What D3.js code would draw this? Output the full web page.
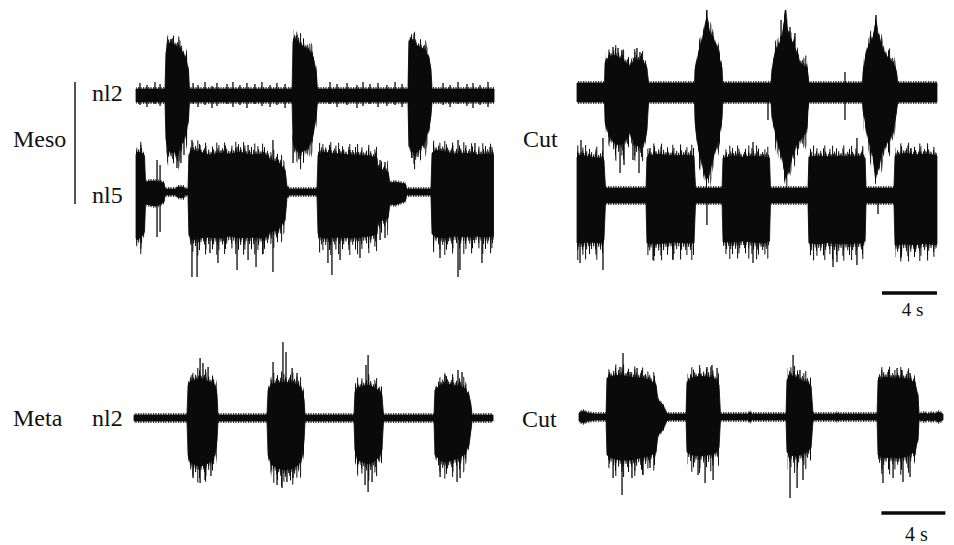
<!DOCTYPE html>
<html>
<head>
<meta charset="utf-8">
<script src="https://cdn.jsdelivr.net/npm/d3@7"></script>
<style>
  body { margin: 0; background: #fff; }
  svg { display: block; }
</style>
</head>
<body>
<svg id="chart" width="954" height="545"></svg>
<script>
// Extracellular nerve recordings. Each envelope row: [time s, upper amplitude, lower amplitude];
// each spike row: [time s, amplitude from, amplitude to]. Amplitudes in arbitrary units.

// ---- Mesothoracic ganglion, intact: nerve nl2 ----
const mesoNl2Env = [
  [0,6,-7],[2.11,6,-7],
  [2.18,42,-44],[2.33,50,-54],[2.55,53,-58],[2.76,51,-56],[2.98,48,-61],[3.2,47,-53],[3.42,42,-46],[3.64,36,-38],[3.82,24,-24],[3.89,6,-7],
  [11.35,6,-7],
  [11.42,54,-46],[11.64,56,-54],[11.85,52,-58],[12.15,49,-56],[12.44,46,-54],[12.73,42,-46],[12.95,34,-34],[13.13,19,-18],[13.2,6,-7],
  [19.78,6,-7],
  [19.85,54,-51],[20.07,56,-56],[20.36,50,-58],[20.65,48,-54],[20.95,46,-48],[21.24,39,-36],[21.45,26,-21],[21.53,6,-7],
  [26.04,6,-7]
];
const mesoNl2Spikes = [
  [2.55,56,30],[2.98,-40,-73],[3.27,-40,-68],[3.49,-40,-60],
  [11.42,-40,-68],[11.71,40,60],[11.93,-40,-64],
  [20.0,40,58],[20.07,-40,-63],[20.51,-40,-62],
  [0.29,12,-10],[0.80,10,-12],[1.38,13,-9],[1.75,11,-11],[4.15,12,-9],[4.51,10,-12],[5.02,13,-10],
  [5.53,9,-13],[5.89,12,-11],[6.62,11,-9],[7.05,13,-12],[7.56,10,-10],[8.07,12,-13],[8.65,11,-9],
  [9.16,13,-11],[9.75,10,-12],[10.25,12,-10],[10.84,11,-13],[14.11,13,-9],[14.62,11,-12],[15.35,12,-10],
  [16.07,10,-13],[16.51,13,-11],[17.02,11,-9],[17.6,12,-12],[18.25,10,-11],[18.84,13,-10],[19.35,11,-12],
  [22.33,12,-10],[22.84,10,-12],[23.42,13,-9],[24.07,11,-11],[24.51,12,-13],[25.02,10,-10],[25.6,13,-12]
];

// ---- Mesothoracic ganglion, intact: nerve nl5 ----
const mesoNl5Env = [
  [0,37,-46],[0.07,40,-48],[0.44,39,-44],[0.62,36,-40],
  [0.69,10,-12],[1.0,11,-13],[1.38,11,-14],[1.82,10,-12],[2.04,9,-10],[2.12,3,-3],
  [2.95,3,-3],[2.98,5,-5],[3.49,5,-6],[3.53,3,-3],[3.78,3,-3],
  [3.85,37,-43],[4.07,42,-48],[4.65,40,-46],[5.38,37,-45],[6.11,39,-46],[6.84,38,-44],[7.56,40,-46],
  [8.29,37,-45],[9.02,38,-46],[9.6,36,-44],[9.75,32,-40],[10.33,30,-38],[10.84,22,-28],[10.98,6,-6],[11.13,3,-3],
  [13.16,3,-3],
  [13.24,37,-42],[13.53,40,-46],[14.11,39,-46],[14.84,38,-45],[15.56,37,-46],[16.29,37,-45],[17.02,36,-44],
  [17.53,34,-42],[17.6,24,-30],[18.33,20,-26],[18.47,9,-12],[18.84,10,-13],[19.2,9,-11],[19.6,8,-9],[19.68,3,-3],
  [21.45,3,-3],
  [21.53,39,-42],[21.82,42,-45],[22.47,40,-46],[23.2,38,-44],[23.93,39,-45],[24.65,37,-44],[25.38,38,-45],[26.0,37,-44]
];
const mesoNl5Spikes = [
  [1.53,32,-45],[1.75,27,-40],
  [4.07,52,-85],[4.44,-40,-85],[4.65,47,30],[5.38,-40,-61],[5.96,-40,-71],[7.35,45,-78],[8.15,47,-68],
  [8.73,-40,-75],[9.24,-40,-62],[9.96,52,-80],
  [13.96,-40,-71],[14.11,45,30],[14.25,-40,-83],[14.84,-40,-68],[15.56,42,30],[16.29,-40,-66],
  [17.75,32,-48],[18.11,30,-46],
  [22.11,-40,-66],[23.42,52,-85],[23.56,-40,-78],[24.65,49,30],[25.16,-40,-71],[25.75,45,30]
];

// ---- Mesothoracic, connectives cut: nerve nl2 ----
const mesoCutNl2Env = [
  [0,10,-9],[2.0,10,-9],
  [2.04,30,-29],[2.25,35,-39],[2.62,38,-49],[2.98,36,-52],[3.35,33,-50],[3.64,29,-45],[3.85,27,-39],
  [4.15,33,-50],[4.51,33,-54],[4.87,30,-50],[5.09,25,-37],[5.2,10,-9],
  [8.55,10,-9],
  [8.58,23,-27],[8.73,33,-47],[8.87,41,-57],[9.09,53,-70],[9.24,62,-80],[9.45,76,-86],[9.6,63,-82],
  [9.75,58,-72],[9.89,55,-64],[10.11,48,-55],[10.25,41,-47],[10.4,31,-37],[10.55,25,-25],[10.6,10,-9],
  [14.11,10,-9],
  [14.18,23,-24],[14.4,40,-37],[14.55,45,-47],[14.76,50,-57],[14.91,57,-64],[15.13,75,-80],[15.2,74,-85],
  [15.35,60,-78],[15.49,55,-72],[15.71,50,-60],[15.93,41,-52],[16.22,30,-47],[16.51,27,-42],[16.73,26,-35],
  [16.8,18,-17],[16.86,10,-9],
  [20.76,10,-9],
  [20.8,20,-17],[20.95,33,-27],[21.09,43,-40],[21.31,50,-52],[21.53,56,-64],[21.67,64,-78],[21.75,71,-80],
  [21.82,67,-82],[21.89,58,-75],[22.04,52,-67],[22.25,43,-57],[22.47,38,-52],[22.76,33,-45],[22.98,30,-39],
  [23.13,26,-27],[23.27,18,-15],[23.33,10,-9],
  [26.18,10,-9]
];
const mesoCutNl2Spikes = [
  [2.62,46,20],[2.98,45,20],[3.27,43,20],[4.36,45,20],[4.58,41,20],
  [3.13,-40,-80],[3.42,-40,-72],[4.07,-40,-67],[4.51,-40,-80],
  [9.45,60,83],[15.16,60,83],[21.75,60,78],
  [13.89,-5,-27],[14.84,73,40],[15.49,66,40],[15.85,60,30],[19.49,21,-27]
];

// ---- Mesothoracic, connectives cut: nerve nl5 ----
const mesoCutNl5Env = [
  [0,39,-47],[0.22,41,-47],[0.95,39,-46],[1.67,38,-47],[1.96,36,-44],[2.07,8,-7],
  [5.02,8,-7],
  [5.09,39,-47],[5.67,42,-48],[6.4,41,-47],[7.13,40,-46],[7.85,41,-47],[8.51,40,-47],[8.62,8,-7],
  [10.55,8,-7],
  [10.62,38,-46],[11.35,40,-46],[12.07,39,-45],[12.8,40,-46],[13.53,39,-47],[14.0,38,-45],[14.07,8,-7],
  [16.8,8,-7],
  [16.87,39,-47],[17.67,40,-48],[18.4,39,-46],[19.13,40,-48],[19.85,39,-47],[20.58,40,-47],[20.95,38,-45],[21.02,8,-7],
  [23.05,8,-7],
  [23.13,40,-49],[23.85,43,-48],[24.58,41,-49],[25.31,42,-47],[26.04,41,-49],[26.18,40,-48]
];
const mesoCutNl5Spikes = [
  [0.22,-40,-67],[0.29,56,35],[1.89,58,-74],
  [5.31,48,35],[5.53,-40,-64],[6.98,-40,-64],
  [9.45,-5,-29],
  [12.8,54,-67],
  [18.62,-40,-71],[18.91,-40,-66],[20.36,58,-69],[21.89,-5,-18],
  [23.56,-40,-62],[24.29,48,35]
];

// ---- Metathoracic ganglion, intact: nerve nl2 ----
const metaNl2Env = [
  [0,3,-3],[3.31,3,-3],
  [3.38,33,-37],[3.5,36,-44],[3.81,38,-47],[4.13,40,-48],[4.44,38,-47],[4.75,36,-44],[5.06,33,-37],[5.19,23,-22],[5.25,3,-3],
  [8.31,3,-3],
  [8.38,28,-37],[8.63,34,-47],[9.0,35,-50],[9.44,36,-52],[9.88,35,-50],[10.25,33,-47],[10.5,28,-40],[10.63,18,-22],[10.69,3,-3],
  [13.75,3,-3],
  [13.81,26,-32],[14.0,30,-42],[14.31,32,-44],[14.63,33,-46],[14.94,31,-44],[15.25,28,-40],[15.5,23,-32],[15.59,3,-3],
  [18.75,3,-3],
  [18.81,28,-37],[19.13,33,-42],[19.5,34,-44],[19.88,33,-42],[20.25,32,-40],[20.63,30,-37],[20.94,23,-27],[21.06,13,-12],[21.13,3,-3],
  [22.44,3,-3]
];
const metaNl2Spikes = [
  [3.63,43,30],[4.13,60,30],[4.31,55,30],[4.63,51,30],
  [3.69,-40,-60],[4.13,-40,-65],[4.44,-40,-62],[4.81,-40,-58],
  [8.69,56,30],[9.31,76,30],[9.5,66,30],[9.88,50,30],[10.19,45,30],
  [8.94,-40,-67],[9.25,-40,-70],[9.56,-40,-64],[9.94,-40,-60],
  [14.5,53,30],[14.63,63,30],[14.44,-40,-67],[14.63,-40,-74],[14.88,-40,-64],
  [19.44,43,30],[20.25,48,30],[20.5,46,30],
  [19.13,-40,-59],[20.19,-40,-64],[20.38,-40,-60]
];

// ---- Metathoracic, connectives cut: nerve nl2 ----
const metaCutEnv = [
  [0,4,-4],[0.25,6,-6],[0.56,4,-4],[1.0,3,-3],[1.69,3,-3],
  [1.75,39,-38],[2.06,41,-41],[2.56,42,-43],[3.19,40,-43],[3.81,39,-41],[4.44,37,-39],[4.81,32,-35],
  [4.94,17,-18],[5.25,12,-13],[5.44,5,-5],[5.56,3,-3],
  [6.69,3,-3],
  [6.75,35,-35],[7.06,39,-38],[7.56,41,-39],[8.06,40,-38],[8.5,38,-36],[8.75,32,-31],[8.84,3,-3],
  [10.56,3,-3],[10.69,5,-5],[10.81,3,-3],
  [12.94,3,-3],
  [13.0,37,-35],[13.19,42,-38],[13.5,40,-39],[13.81,37,-38],[14.19,35,-35],[14.5,31,-31],[14.63,3,-3],
  [16.0,3,-3],[16.13,4,-4],[16.25,3,-3],
  [18.63,3,-3],
  [18.69,37,-38],[19.06,40,-41],[19.56,39,-40],[20.06,39,-41],[20.56,38,-39],[20.94,35,-35],[21.19,22,-23],[21.25,3,-3],
  [21.63,4,-4],[21.8,3,-3],[22.06,4,-4],[22.25,3,-3],[22.44,5,-5],[22.75,3,-3]
];
const metaCutSpikes = [
  [2.56,50,30],[2.75,64,30],[3.19,45,30],[3.63,49,30],[4.13,42,30],
  [2.13,-35,-61],[2.69,-35,-78],[3.31,-35,-61],[4.0,-35,-58],[4.44,-35,-51],
  [8.0,50,30],[8.31,52,30],[8.63,49,30],
  [7.44,-35,-58],[7.88,-35,-66],[8.38,-35,-63],
  [13.38,62,30],[13.81,47,30],
  [13.19,-35,-81],[13.63,-35,-71],[14.0,-35,-63],
  [19.31,45,30],[19.88,49,30],[20.19,47,30],[20.69,44,30],
  [19.0,-35,-66],[19.63,-35,-61],[20.25,-35,-65],[20.69,-35,-60]
];

// Row / side labels and scale bars
const rowLabels = ["Meso", "Meta"];
const nerveLabels = ["nl2", "nl5", "nl2"];
const cutLabel = "Cut";
const scaleBarSeconds = 4;
const scaleBarLabel = "4 s";

// ---------------------------------------------------------------
const svg = d3.select("#chart");
const ink = "#0a0a0a";
const serif = "'Liberation Serif', 'Times New Roman', Times, 'DejaVu Serif', serif";

// Layout of each trace: left edge, baseline, pixels per second, duration
const traces = [
  { env: mesoNl2Env,    spikes: mesoNl2Spikes,    left: 136, base: 95,  pps: 13.75, dur: 26.04 },
  { env: mesoNl5Env,    spikes: mesoNl5Spikes,    left: 136, base: 192, pps: 13.75, dur: 26.04 },
  { env: mesoCutNl2Env, spikes: mesoCutNl2Spikes, left: 577, base: 93,  pps: 13.75, dur: 26.18 },
  { env: mesoCutNl5Env, spikes: mesoCutNl5Spikes, left: 577, base: 196, pps: 13.75, dur: 26.18 },
  { env: metaNl2Env,    spikes: metaNl2Spikes,    left: 134, base: 418, pps: 16,    dur: 22.44 },
  { env: metaCutEnv,    spikes: metaCutSpikes,    left: 579, base: 417, pps: 16,    dur: 22.9 }
];

// Vertical-stripe textures: the dense unit spikes that fringe each burst.
const defs = svg.append("defs");
const stripes = [
  { id: "st1", w: 5,  xs: [0.5, 3.2] },
  { id: "st2", w: 9,  xs: [1.2, 6.1] },
  { id: "st3", w: 13, xs: [4.0, 10.4] },
  { id: "st4", w: 19, xs: [7.3, 15.1] }
];
stripes.forEach(s => {
  const p = defs.append("pattern").attr("id", s.id)
    .attr("patternUnits", "userSpaceOnUse").attr("width", s.w).attr("height", 8);
  s.xs.forEach(x => p.append("rect").attr("x", x).attr("y", 0)
    .attr("width", 1).attr("height", 8).attr("fill", ink));
});
// fringe layers: pattern, extra pixels above, extra pixels below
const burstFringe = [
  { id: "st1", up: 3,  dn: 4 },
  { id: "st2", up: 5,  dn: 7 },
  { id: "st3", up: 8,  dn: 12 },
  { id: "st4", up: 11, dn: 17 }
];
const baseFringe = { id: "st1", up: 2, dn: 2 };

// Split an envelope into bursts (runs where activity exceeds the tonic level)
function bursts(env, thr) {
  const out = [];
  let cur = null;
  env.forEach(d => {
    if (Math.max(d[1], -d[2]) > thr) {
      if (!cur) { cur = []; out.push(cur); }
      cur.push(d);
    } else cur = null;
  });
  return out;
}

traces.forEach(tr => {
  tr.x = d3.scaleLinear().domain([0, tr.dur]).range([tr.left, tr.left + tr.dur * tr.pps]);
  tr.y = d3.scaleLinear().domain([-100, 100]).range([tr.base + 100, tr.base - 100]);
  const g = svg.append("g");
  const areaPad = (up, dn) => d3.area()
    .x(d => tr.x(d[0]))
    .y0(d => tr.y(d[2]) + dn)
    .y1(d => tr.y(d[1]) - up);

  // fine fuzz along the whole trace
  g.append("path").datum(tr.env)
    .attr("d", areaPad(baseFringe.up, baseFringe.dn))
    .attr("fill", `url(#${baseFringe.id})`);

  // coarser fringe on the bursts only
  bursts(tr.env, 14).forEach(b => {
    burstFringe.forEach(f => {
      g.append("path").datum(b)
        .attr("d", areaPad(f.up, f.dn))
        .attr("fill", `url(#${f.id})`);
    });
  });

  // solid envelope
  g.append("path")
    .datum(tr.env)
    .attr("d", areaPad(0, 0))
    .attr("fill", ink)
    .attr("stroke", ink)
    .attr("stroke-width", 0.8)
    .attr("stroke-linejoin", "round");

  g.selectAll("line.spike")
    .data(tr.spikes)
    .join("line")
    .attr("class", "spike")
    .attr("x1", d => tr.x(d[0]))
    .attr("x2", d => tr.x(d[0]))
    .attr("y1", d => tr.y(d[1]))
    .attr("y2", d => tr.y(d[2]))
    .attr("stroke", ink)
    .attr("stroke-width", 1.3);
});

// Labels
const fs = 24;
function label(x, y, s, size, anchor) {
  svg.append("text").attr("x", x).attr("y", y)
    .attr("font-size", size || fs)
    .attr("font-family", serif)
    .attr("text-anchor", anchor || "start")
    .attr("fill", "#111")
    .text(s);
}
label(13, 147, rowLabels[0]);
label(13, 426, rowLabels[1]);
label(92, 101, nerveLabels[0]);
label(92, 203, nerveLabels[1]);
label(92, 426, nerveLabels[2]);
label(523, 147, cutLabel);
label(522, 427, cutLabel);

// Bracket joining the two Meso nerves
svg.append("line").attr("x1", 75).attr("x2", 75).attr("y1", 82).attr("y2", 204)
  .attr("stroke", ink).attr("stroke-width", 1.4);

// Time scale bars, drawn with each row's own time scale
function scaleBar(tr, y, labelY, size) {
  const t1 = tr.dur, t0 = tr.dur - scaleBarSeconds;
  svg.append("line")
    .attr("x1", tr.x(t0)).attr("x2", tr.x(t1))
    .attr("y1", y).attr("y2", y)
    .attr("stroke", ink).attr("stroke-width", 3.5);
  label((tr.x(t0) + tr.x(t1)) / 2 + 3, labelY, scaleBarLabel, size, "middle");
}
scaleBar(traces[3], 293, 316, 19);
scaleBar(traces[5], 513, 541, 20);
</script>
</body>
</html>
